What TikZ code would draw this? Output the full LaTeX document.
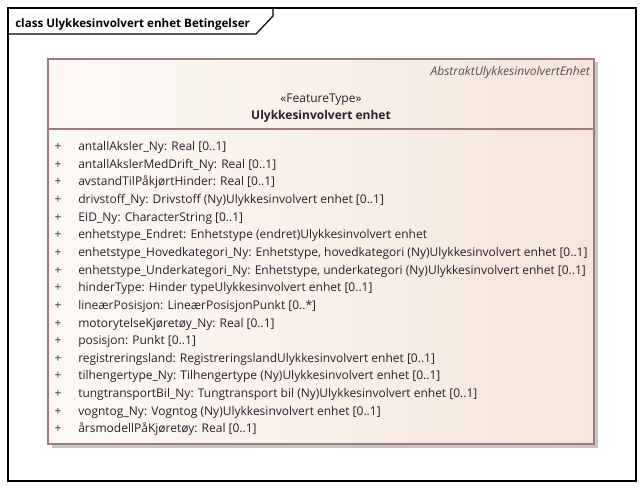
\documentclass[tikz,border=0pt]{standalone}
\usepackage{fontspec}
\setmainfont{Open Sans}
\definecolor{umlborder}{HTML}{9C7B80}
\definecolor{umlfillA}{HTML}{FCF9F6}
\definecolor{umlfillB}{HTML}{F4E6DA}
\definecolor{umltext}{HTML}{2E1E2C}
\definecolor{umlplus}{HTML}{5E1F38}
\tikzset{frameline/.style={black, line width=0.9pt},
  classbox/.style={umlborder, line width=0.8pt},
  attr/.style={anchor=base west, inner sep=0pt, text=umltext, font=\fontsize{9}{11}\selectfont},
  plussign/.style={anchor=base, inner sep=0pt, text=umlplus, font=\fontsize{9}{11}\selectfont}}

\begin{document}
\begin{tikzpicture}[x=0.75pt, y=-0.75pt]
  \useasboundingbox (0,0) rectangle (644,489);
  % diagram frame
  \draw[frameline] (8,8) rectangle (636,481);
  \draw[frameline] (8,34) -- (256,34) -- (273,16) -- (273,8);
  \node[anchor=base west, inner sep=0pt, font=\bfseries\fontsize{8.7}{10}\selectfont]
    (framelabel) at (15,27) {class Ulykkesinvolvert enhet Betingelser};
  % class box
  \fill[black!22] (52,62) rectangle (598,448);
  \shade[left color=umlfillA, right color=umlfillB] (48,59) rectangle (594,444);
  \draw[classbox] (48,59) rectangle (594,444);
  \draw[classbox] (48,129) -- (594,129);
  \node[anchor=base east, inner sep=0pt, text=umltext!80, font=\itshape\fontsize{9}{11}\selectfont]
    (parent) at (590,75) {AbstraktUlykkesinvolvertEnhet};
  \node[anchor=base, inner sep=0pt, text=umltext, font=\fontsize{9}{11}\selectfont]
    (stereo) at (321,102) {«FeatureType»};
  \node[anchor=base, inner sep=0pt, text=umltext, font=\bfseries\fontsize{9}{11}\selectfont]
    (classname) at (321,119) {Ulykkesinvolvert enhet};
  % attributes
  \foreach \txt [count=\i] in {
    {antallAksler\_Ny: Real [0..1]},
    {antallAkslerMedDrift\_Ny: Real [0..1]},
    {avstandTilPåkjørtHinder: Real [0..1]},
    {drivstoff\_Ny: Drivstoff (Ny)Ulykkesinvolvert enhet [0..1]},
    {EID\_Ny: CharacterString [0..1]},
    {enhetstype\_Endret: Enhetstype (endret)Ulykkesinvolvert enhet},
    {enhetstype\_Hovedkategori\_Ny: Enhetstype, hovedkategori (Ny)Ulykkesinvolvert enhet [0..1]},
    {enhetstype\_Underkategori\_Ny: Enhetstype, underkategori (Ny)Ulykkesinvolvert enhet [0..1]},
    {hinderType: Hinder typeUlykkesinvolvert enhet [0..1]},
    {lineærPosisjon: LineærPosisjonPunkt [0..*]},
    {motorytelseKjøretøy\_Ny: Real [0..1]},
    {posisjon: Punkt [0..1]},
    {registreringsland: RegistreringslandUlykkesinvolvert enhet [0..1]},
    {tilhengertype\_Ny: Tilhengertype (Ny)Ulykkesinvolvert enhet [0..1]},
    {tungtransportBil\_Ny: Tungtransport bil (Ny)Ulykkesinvolvert enhet [0..1]},
    {vogntog\_Ny: Vogntog (Ny)Ulykkesinvolvert enhet [0..1]},
    {årsmodellPåKjøretøy: Real [0..1]}} {
    \node[plussign] (plus\i) at (58,{150.5+(\i-1)*17.65}) {+};
    \node[attr] (attr\i) at (78,{150.5+(\i-1)*17.65}) {\txt};
  }
\end{tikzpicture}
\end{document}
